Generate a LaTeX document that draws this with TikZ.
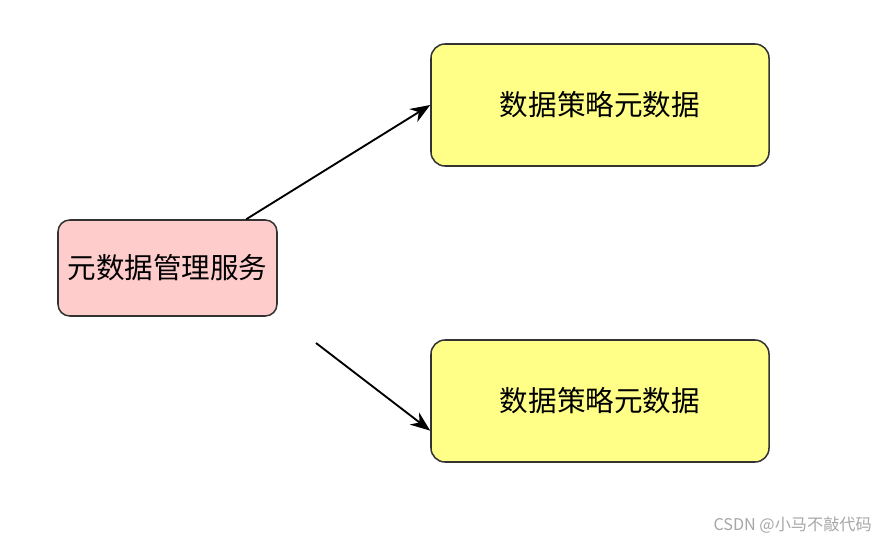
\documentclass[tikz,border=0pt]{standalone}
\usepackage{fontspec}
\setmainfont{Noto Sans CJK SC}
\usetikzlibrary{calc,arrows.meta,positioning}
\definecolor{servicepink}{HTML}{FFCCCC}
\definecolor{policyyellow}{HTML}{FFFF88}
\definecolor{boxborder}{HTML}{333333}

\begin{document}
\begin{tikzpicture}[x=0.03cm,y=-0.03cm,>=Stealth,
			every node/.style={font=\fontsize{24.4}{28}\selectfont},
			service/.style={rounded corners=10pt,draw=boxborder,line width=1.3pt,fill=servicepink,
				minimum width=6.57cm,minimum height=2.88cm,align=center},
			policy/.style={rounded corners=12pt,draw=boxborder,line width=1.3pt,fill=policyyellow,
				minimum width=10.14cm,minimum height=3.66cm,align=center},
			link/.style={line width=1.6pt,black,
				arrows={-Stealth[length=17pt,width=13pt]}}]
			\useasboundingbox (0,0) rectangle (876,540);
			\node[service] (meta) at (167.5,268) {元数据管理服务};
			\node[policy] (pol1) at (600,105) {数据策略元数据};
			\node[policy] (pol2) at (600,401) {数据策略元数据};
			\coordinate (s1) at ($(meta.north west)!0.857!(meta.north east)$);
			\coordinate (s2) at (316,343);
			\coordinate (e2) at ($(pol2.south west)!0.26!(pol2.north west)$);
			\draw[link] (s1) -- (pol1.west);
			\draw[link] (s2) -- (e2);
			\node[anchor=east,inner sep=0pt,text=black!35,font=\fontsize{13.8}{15}\selectfont] (mark) at (872,525) {CSDN @小马不敲代码};
		\end{tikzpicture}
\end{document}
